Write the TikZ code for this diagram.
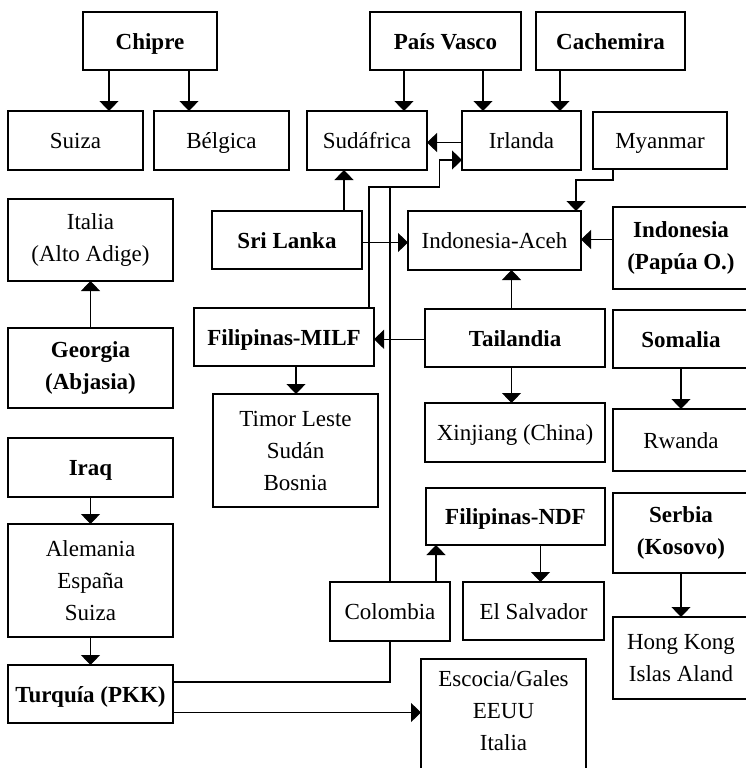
\documentclass[tikz,border=0pt]{standalone}
\usepackage{fontspec}
\setmainfont{Liberation Serif}
\usetikzlibrary{arrows.meta,calc}
\begin{document}
\begin{tikzpicture}[x=1pt,y=-1pt,
  base/.style={draw=black, rectangle, inner sep=0pt, outer sep=0pt, align=center, font=\fontsize{23}{32}\selectfont},
  tbox/.style={base, line width=1.3pt},
  kbox/.style={base, line width=2.8pt},
  bbox/.style={kbox, font=\fontsize{23}{32}\selectfont\bfseries},
  sl/.style={text height=18pt, text depth=2pt},
  conn/.style={line width=1.2pt, black},
  arr/.style={conn, -{Triangle[width=19pt,length=10pt]}},
]
\useasboundingbox (0,0) rectangle (746,768);
\clip (0,0) rectangle (746,768);

% row 1
\node[bbox, sl, minimum width=134pt, minimum height=58pt] (chipre) at (150,41) {Chipre};
\node[bbox, sl, minimum width=151pt, minimum height=58pt] (pais) at (445.5,41) {País Vasco};
\node[bbox, sl, minimum width=149pt, minimum height=58pt] (cachemira) at (610.5,41) {Cachemira};
% row 2
\node[tbox, sl, minimum width=135pt, minimum height=59pt] (suiza) at (75.5,140.5) {Suiza};
\node[tbox, sl, minimum width=135pt, minimum height=59pt] (belgica) at (221.5,140.5) {Bélgica};
\node[tbox, sl, minimum width=120pt, minimum height=59pt] (sudafrica) at (367,140.5) {Sudáfrica};
\node[tbox, sl, minimum width=119pt, minimum height=59pt] (irlanda) at (521.5,140.5) {Irlanda};
\node[kbox, sl, minimum width=134pt, minimum height=57pt] (myanmar) at (660,140.5) {Myanmar};
% row 3
\node[tbox, minimum width=165pt, minimum height=82pt] (italia) at (90.5,240) {Italia\\(Alto Adige)};
\node[bbox, sl, minimum width=150pt, minimum height=58pt] (srilanka) at (287,240) {Sri Lanka};
\node[tbox, sl, minimum width=173pt, minimum height=59pt] (aceh) at (494.5,240.5) {Indonesia-Aceh};
\node[bbox, minimum width=136pt, minimum height=82pt] (papua) at (681,248) {Indonesia\\(Papúa O.)};
% row 4
\node[bbox, sl, minimum width=180pt, minimum height=58pt] (milf) at (284,337) {Filipinas-MILF};
\node[bbox, sl, minimum width=180pt, minimum height=58pt] (tailandia) at (515,338) {Tailandia};
\node[bbox, sl, minimum width=136pt, minimum height=58pt] (somalia) at (681,339) {Somalia};
\node[bbox, minimum width=165pt, minimum height=80pt] (georgia) at (90.5,368) {Georgia\\(Abjasia)};
% row 5
\node[tbox, minimum width=165pt, minimum height=113pt] (timor) at (295.5,450.5) {Timor Leste\\Sudán\\Bosnia};
\node[tbox, sl, minimum width=180pt, minimum height=59pt] (xinjiang) at (515,432.5) {Xinjiang (China)};
\node[tbox, sl, minimum width=136pt, minimum height=62pt] (rwanda) at (681,440) {Rwanda};
\node[bbox, sl, minimum width=165pt, minimum height=59pt] (iraq) at (90.5,467.5) {Iraq};
% row 6
\node[bbox, sl, minimum width=179pt, minimum height=57pt] (ndf) at (515.5,516.5) {Filipinas-NDF};
\node[bbox, minimum width=136pt, minimum height=80pt] (serbia) at (681,533) {Serbia\\(Kosovo)};
\node[tbox, minimum width=165pt, minimum height=113pt] (alemania) at (90.5,580.5) {Alemania\\España\\Suiza};
\node[tbox, sl, minimum width=120pt, minimum height=59pt] (colombia) at (390,611.5) {Colombia};
\node[kbox, sl, minimum width=141pt, minimum height=58pt] (salvador) at (533.5,611) {El Salvador};
\node[tbox, minimum width=136pt, minimum height=82pt] (hongkong) at (681,658) {Hong Kong\\Islas Aland};
% row 7
\node[bbox, sl, minimum width=165pt, minimum height=58pt] (turquia) at (90.5,694) {Turquía (PKK)};
\node[tbox, minimum width=165pt, anchor=north, text height=91pt, text depth=30pt] (escocia) at (503.5,659) {Escocia/Gales\\EEUU\\Italia};

% junction points
\coordinate (bendA) at (439.5,187);
\coordinate (joinC) at (390,187);

% connectors
\draw[arr] ([xshift=-41pt]chipre.south) -- ([xshift=-41pt]chipre.south |- suiza.north);
\draw[arr] ([xshift=39pt]chipre.south) -- ([xshift=39pt]chipre.south |- belgica.north);
\draw[arr] ([xshift=-41.5pt]pais.south) -- ([xshift=-41.5pt]pais.south |- sudafrica.north);
\draw[arr] ([xshift=37.5pt]pais.south) -- ([xshift=37.5pt]pais.south |- irlanda.north);
\draw[arr] ([xshift=-50.5pt]cachemira.south) -- ([xshift=-50.5pt]cachemira.south |- irlanda.north);
\draw[arr] ([yshift=-2pt]irlanda.west) -- ([yshift=-2pt]irlanda.west -| sudafrica.east);
\draw[arr] ([xshift=85pt]milf.north) |- (bendA) |- ([yshift=-19.5pt]irlanda.west);
\draw[conn] (colombia.north -| joinC) -- (joinC);
\draw[conn] ([yshift=12pt]turquia.east) -| (colombia.south);
\draw[arr] ([yshift=-18.5pt]turquia.east) -- ([yshift=-18.5pt]turquia.east -| escocia.west);
\draw[arr] ([xshift=57pt]srilanka.north) -- ([xshift=57pt]srilanka.north |- sudafrica.south);
\draw[arr] ([yshift=-2.5pt]srilanka.east) -- ([yshift=-2.5pt]srilanka.east -| aceh.west);
\draw[arr] ([xshift=-47pt]myanmar.south) -- ++(0,11) -| ([xshift=81.5pt]aceh.north);
\draw[arr] ([yshift=8.5pt]papua.west) -- ([yshift=8.5pt]papua.west -| aceh.east);
\draw[arr] ([xshift=-3.5pt]tailandia.north) -- ([xshift=-3.5pt]tailandia.north |- aceh.south);
\draw[arr] ([yshift=-1.3pt]tailandia.west) -- ([yshift=-1.3pt]tailandia.west -| milf.east);
\draw[arr] ([xshift=-3.5pt]tailandia.south) -- ([xshift=-3.5pt]tailandia.south |- xinjiang.north);
\draw[arr] (somalia.south) -- (rwanda.north);
\draw[arr] (georgia.north) -- (italia.south);
\draw[arr] (iraq.south) -- (alemania.north);
\draw[arr] (alemania.south) -- (turquia.north);
\draw[arr] ([xshift=12pt]milf.south) -- ([xshift=12pt]milf.south |- timor.north);
\draw[arr] ([xshift=46pt]colombia.north) -- ([xshift=46pt]colombia.north |- ndf.south);
\draw[arr] ([xshift=25pt]ndf.south) -- ([xshift=25pt]ndf.south |- salvador.north);
\draw[arr] (serbia.south) -- (hongkong.north);
\end{tikzpicture}
\end{document}
